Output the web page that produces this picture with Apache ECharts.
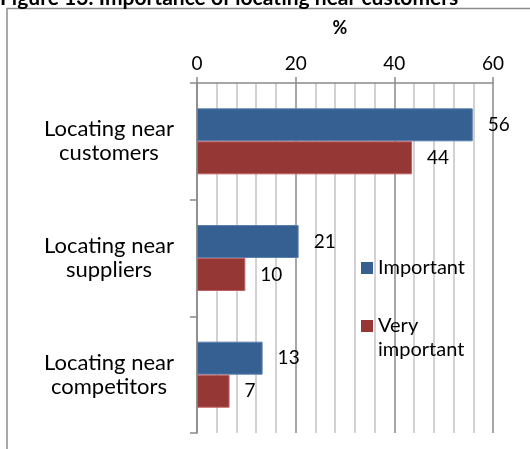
<!DOCTYPE html>
<html>
<head>
<meta charset="utf-8">
<script src="https://cdn.jsdelivr.net/npm/echarts@6/dist/echarts.min.js"></script>
<style>
  html, body { margin: 0; padding: 0; background: #fff; }
  #chart { width: 530px; height: 449px; }
</style>
</head>
<body>
<div id="chart"></div>
<script>
// categories, top to bottom
const categories = ["Locating near\ncustomers", "Locating near\nsuppliers", "Locating near\ncompetitors"];
const important = [55.9, 20.6, 13.3]; // 56, 21, 13
const veryImportant = [43.6, 9.8, 6.6]; // 44, 10, 7
const xTicks = [0, 20, 40, 60];

const chart = echarts.init(document.getElementById("chart"));
const font = "Lato, 'Open Sans', sans-serif";

const option = {
  animation: false,
  textStyle: { fontFamily: font },
  title: {
    text: "Figure 13: Importance of locating near customers",
    left: -5,
    top: -17,
    textStyle: { fontFamily: font, fontSize: 21, fontWeight: "bold", color: "#000" }
  },
  // outer frame of the chart box (cut at right and bottom)
  graphic: [{
    type: "rect",
    shape: { x: 7, y: 8.5, width: 600, height: 600 },
    style: { fill: "none", stroke: "#8c8c8c", lineWidth: 1.5 },
    silent: true
  }],
  grid: { left: 197, right: 37, top: 83, bottom: 16 },
  xAxis: {
    type: "value",
    position: "top",
    min: xTicks[0],
    max: xTicks[xTicks.length - 1],
    interval: 20,
    name: "%",
    nameLocation: "middle",
    nameGap: 46,
    nameTextStyle: { fontFamily: font, fontSize: 18, fontWeight: "bold", color: "#000", padding: [0, 10, 0, 0] },
    axisLine: { show: true, lineStyle: { color: "#8a8a8a", width: 1.5 } },
    axisTick: { show: true, length: 6, lineStyle: { color: "#8a8a8a", width: 1.5 } },
    axisLabel: { fontSize: 19, color: "#000", margin: 10 },
    splitLine: { show: true, lineStyle: { color: "#8a8a8a", width: 1.5 } },
    minorTick: { show: false, splitNumber: 5 },
    minorSplitLine: { show: true, lineStyle: { color: "#c4c4c4", width: 1.5 } }
  },
  yAxis: {
    type: "category",
    inverse: true,
    data: categories,
    axisLine: { show: true, lineStyle: { color: "#8a8a8a", width: 1.5 } },
    axisTick: { show: true, length: 7, lineStyle: { color: "#8a8a8a", width: 1.5 } },
    axisLabel: { fontSize: 22, color: "#000", align: "center", lineHeight: 24, margin: 88 },
    splitLine: { show: false }
  },
  legend: {
    orient: "vertical",
    left: 356,
    top: 251,
    itemWidth: 12,
    itemHeight: 12,
    itemGap: 10,
    icon: "rect",
    itemStyle: { borderWidth: 0 },
    textStyle: { fontFamily: font, fontSize: 20, color: "#000", lineHeight: 24 },
    data: ["Important", "Very important"],
    // empty first line keeps the marker level with "Very"
    formatter: function (name) {
      return name === "Very important" ? "\nVery\nimportant" : name;
    }
  },
  series: [
    {
      name: "Important",
      type: "bar",
      data: important,
      barWidth: 33,
      barGap: "0%",
      itemStyle: { color: "#376092", borderColor: "#5a80b0", borderWidth: 1 },
      label: {
        show: true, position: "right", distance: 15, fontSize: 19, color: "#000",
        formatter: p => Math.round(p.value)
      }
    },
    {
      name: "Very important",
      type: "bar",
      data: veryImportant,
      barWidth: 33,
      barGap: "0%",
      itemStyle: { color: "#953735", borderColor: "#c06060", borderWidth: 1 },
      label: {
        show: true, position: "right", distance: 15, fontSize: 19, color: "#000",
        formatter: p => Math.round(p.value)
      }
    }
  ]
};

chart.setOption(option);
</script>
</body>
</html>
